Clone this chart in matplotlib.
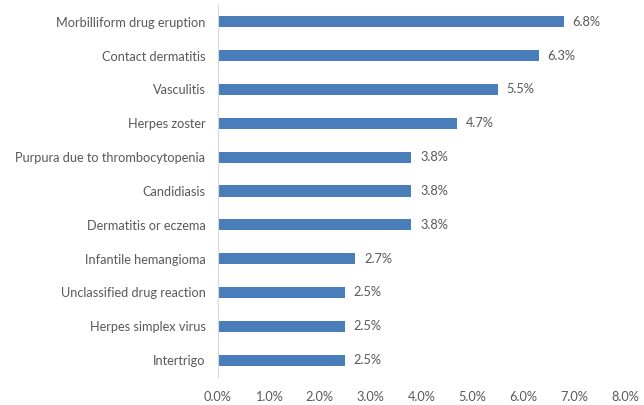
import matplotlib.pyplot as plt
import numpy as np

# share of cases per diagnosis (%)
categories = [
    "Morbilliform drug eruption",
    "Contact dermatitis",
    "Vasculitis",
    "Herpes zoster",
    "Purpura due to thrombocytopenia",
    "Candidiasis",
    "Dermatitis or eczema",
    "Infantile hemangioma",
    "Unclassified drug reaction",
    "Herpes simplex virus",
    "Intertrigo",
]
values = [6.8, 6.3, 5.5, 4.7, 3.8, 3.8, 3.8, 2.7, 2.5, 2.5, 2.5]
xticks = [0, 1, 2, 3, 4, 5, 6, 7, 8]

plt.rcParams["font.family"] = ["Lato", "DejaVu Sans"]
text_color = "#595959"
fs = 9.2

fig = plt.figure(figsize=(6.44, 4.05), dpi=100)
ax = fig.add_axes([0.3385, 0.069, 0.632, 0.919])

y = np.arange(len(categories))
ax.barh(y, values, height=0.33, color="#4a7ebb")

# value labels at the end of each bar
for yi, v in zip(y, values):
    ax.text(v + 0.17, yi, f"{v:.1f}%", va="center", ha="left",
            fontsize=fs, color=text_color)

ax.set_ylim(len(categories) - 0.5, -0.5)
ax.set_yticks(y)
ax.set_yticklabels(categories, fontsize=fs, color=text_color)
ax.set_xlim(0, 8)
ax.set_xticks(xticks)
ax.set_xticklabels([f"{t:.1f}%" for t in xticks], fontsize=fs, color=text_color)

for side in ["top", "right", "bottom"]:
    ax.spines[side].set_visible(False)
ax.spines["left"].set_color("#d9d9d9")
ax.tick_params(axis="both", length=0)
ax.tick_params(axis="y", pad=9)
ax.tick_params(axis="x", pad=10)

fig.savefig("out.png", dpi=100)
